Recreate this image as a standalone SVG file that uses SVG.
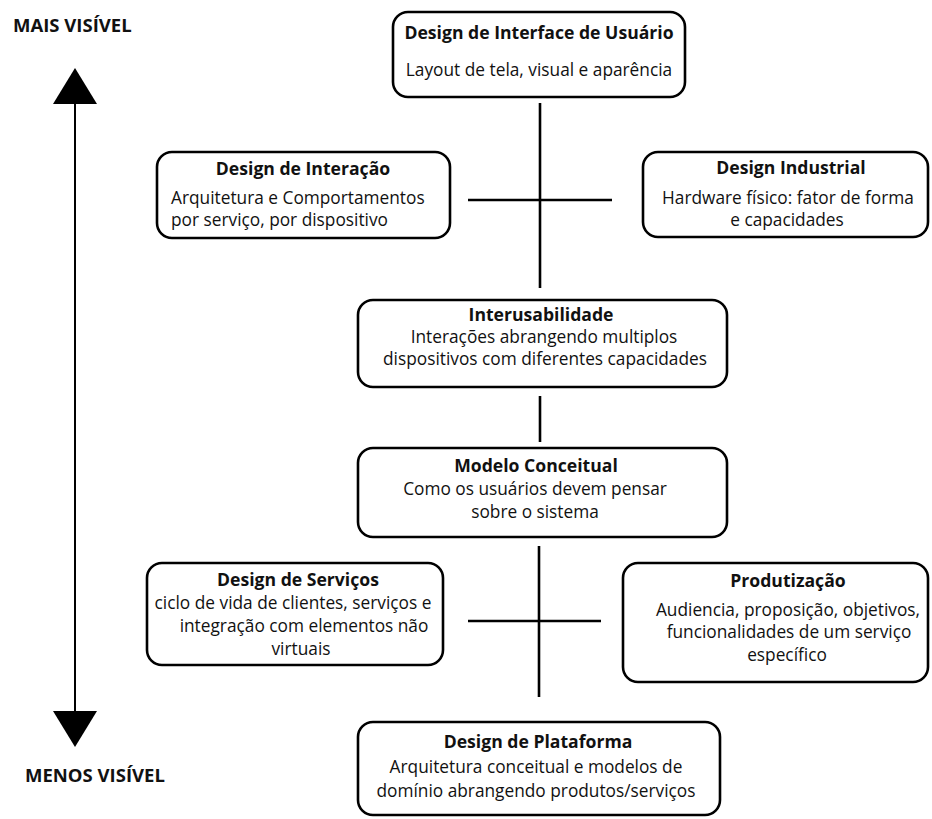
<svg xmlns="http://www.w3.org/2000/svg" width="932" height="819" viewBox="0 0 932 819">
  <style>
    .box { fill: #fff; stroke: #000; stroke-width: 2.6; }
    .t { font-family: "Open Sans", "Noto Sans", sans-serif; font-size: 17.6px; font-weight: 700; fill: #111; text-anchor: middle; }
    .d { font-family: "Open Sans", "Noto Sans", sans-serif; font-size: 17.3px; fill: #111; text-anchor: middle; }
    .l { text-anchor: start; }
    .side { font-family: "Open Sans", "Noto Sans", sans-serif; font-size: 18.5px; font-weight: 700; fill: #111; }
    .wire { stroke: #000; stroke-width: 2.6; fill: none; }
  </style>
  <rect width="932" height="819" fill="#fff"/>

  <!-- visibility axis -->
  <g id="axis">
    <text class="side" x="13" y="32">MAIS VISÍVEL</text>
    <line x1="75" y1="100" x2="75" y2="715" stroke="#000" stroke-width="2"/>
    <polygon points="75,68 53,104 97,104" fill="#000"/>
    <polygon points="53,711 97,711 75,747" fill="#000"/>
    <text class="side" x="25" y="782">MENOS VISÍVEL</text>
  </g>

  <g id="connectors">
    <line class="wire" x1="540" y1="103" x2="540" y2="288"/>
    <line class="wire" x1="468" y1="200" x2="612" y2="200"/>
    <line class="wire" x1="540" y1="396" x2="540" y2="442"/>
    <line class="wire" x1="539" y1="546" x2="539" y2="697"/>
    <line class="wire" x1="468" y1="621" x2="601" y2="621"/>
  </g>

  <g id="ui-design">
    <rect class="box" x="393" y="12" width="292" height="85" rx="15"/>
    <text class="t" x="539" y="39">Design de Interface de Usuário</text>
    <text class="d" x="539" y="76">Layout de tela, visual e aparência</text>
  </g>

  <g id="interaction-design">
    <rect class="box" x="157" y="152" width="293" height="86" rx="15"/>
    <text class="t" x="303" y="175">Design de Interação</text>
    <text class="d l" x="171" y="204">Arquitetura e Comportamentos</text>
    <text class="d l" x="171" y="226">por serviço, por dispositivo</text>
  </g>

  <g id="industrial-design">
    <rect class="box" x="643" y="152" width="285" height="85" rx="15"/>
    <text class="t" x="791" y="174">Design Industrial</text>
    <text class="d" x="788" y="204">Hardware físico: fator de forma</text>
    <text class="d" x="787" y="226">e capacidades</text>
  </g>

  <g id="interusability">
    <rect class="box" x="358" y="300" width="369" height="87" rx="15"/>
    <text class="t" x="541" y="321">Interusabilidade</text>
    <text class="d" x="544" y="343">Interações abrangendo multiplos</text>
    <text class="d" x="545" y="365">dispositivos com diferentes capacidades</text>
  </g>

  <g id="conceptual-model">
    <rect class="box" x="358" y="448" width="369" height="89" rx="15"/>
    <text class="t" x="536" y="472">Modelo Conceitual</text>
    <text class="d" x="535" y="495">Como os usuários devem pensar</text>
    <text class="d" x="535" y="518">sobre o sistema</text>
  </g>

  <g id="service-design">
    <rect class="box" x="147" y="563" width="296" height="102" rx="15"/>
    <text class="t" x="298" y="586">Design de Serviços</text>
    <text class="d" x="293" y="609">ciclo de vida de clientes, serviços e</text>
    <text class="d" x="304" y="632">integração com elementos não</text>
    <text class="d" x="301" y="655">virtuais</text>
  </g>

  <g id="productization">
    <rect class="box" x="623" y="563" width="305" height="119" rx="15"/>
    <text class="t" x="788" y="587">Produtização</text>
    <text class="d" x="788" y="616">Audiencia, proposição, objetivos,</text>
    <text class="d" x="789" y="638">funcionalidades de um serviço</text>
    <text class="d" x="787" y="661">específico</text>
  </g>

  <g id="platform-design">
    <rect class="box" x="358" y="722" width="362" height="93" rx="15"/>
    <text class="t" x="538" y="748">Design de Plataforma</text>
    <text class="d" x="536" y="773">Arquitetura conceitual e modelos de</text>
    <text class="d" x="536" y="797">domínio abrangendo produtos/serviços</text>
  </g>
</svg>
